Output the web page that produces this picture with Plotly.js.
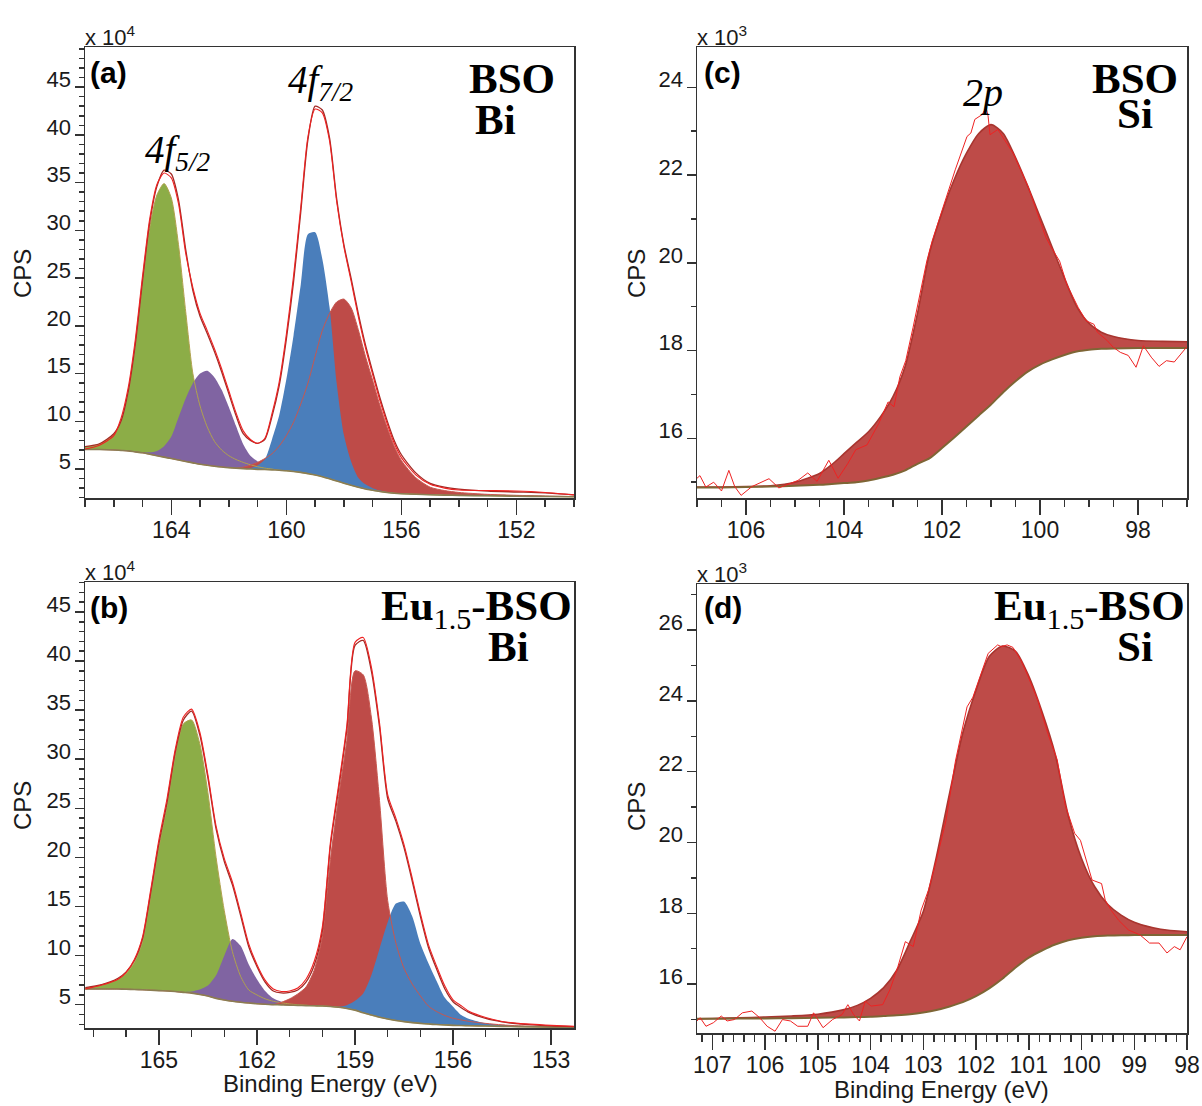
<!DOCTYPE html>
<html><head><meta charset="utf-8">
<script src="https://cdn.plot.ly/plotly-3.0.1.min.js"></script>
<style>html,body{margin:0;padding:0;background:#fff}#chart{width:1202px;height:1106px}</style>
</head><body><div id="chart"></div>
<script>
// ---------- Panel (a): BSO, Bi 4f (CPS x 10^4) ----------
const energyA = [167,166.5,166,165.75,165.5,165.25,165,164.75,164.5,164.25,164,163.75,163.5,163.25,163,162.75,162.5,162.25,162,161.75,161.5,161.25,161,160.75,160.5,160.25,160,159.75,159.5,159.25,159,158.75,158.5,158.25,158,157.75,157.5,157.25,157,156.75,156.5,156.25,156,155.5,155,154.5,154,153,152,151,150];
const bgA = [7.05,7.05,7.0,6.95,6.9,6.8,6.7,6.55,6.4,6.25,6.1,5.95,5.8,5.65,5.5,5.4,5.3,5.22,5.15,5.1,5.05,5.0,4.97,4.95,4.92,4.88,4.82,4.75,4.65,4.52,4.38,4.2,3.98,3.75,3.52,3.3,3.1,2.92,2.78,2.65,2.55,2.47,2.42,2.36,2.31,2.27,2.24,2.2,2.16,2.13,2.1];
const greenA = [7.3,7.6,8.6,9.9,12.9,17.8,24.3,30.2,33.7,34.9,33.4,28.5,21.5,15.0,11.6,9.4,7.9,7.0,6.4,6.0,5.7,5.45,5.25,5.1,5.0,4.88,4.82,4.75,4.65,4.52,4.38,4.2,3.98,3.75,3.52,3.3,3.1,2.92,2.78,2.65,2.55,2.47,2.42,2.36,2.31,2.27,2.24,2.2,2.16,2.13,2.1];
const purpleA = [7.05,7.05,7.0,6.95,6.9,6.8,6.75,6.75,6.9,7.4,8.4,10.4,12.4,14.0,15.0,15.3,14.6,13.3,11.5,9.5,7.6,6.4,5.8,5.45,5.25,5.05,4.9,4.75,4.65,4.52,4.38,4.2,3.98,3.75,3.52,3.3,3.1,2.92,2.78,2.65,2.55,2.47,2.42,2.36,2.31,2.27,2.24,2.2,2.16,2.13,2.1];
const blueA = [7.05,7.05,7.0,6.95,6.9,6.8,6.7,6.55,6.4,6.25,6.1,5.95,5.8,5.65,5.5,5.4,5.3,5.22,5.15,5.1,5.05,5.1,5.4,6.0,8.1,10.6,14.4,19.0,24.3,29.6,29.8,27.0,22.0,14.0,8.6,5.8,4.1,3.4,3.0,2.75,2.6,2.5,2.44,2.36,2.31,2.27,2.24,2.2,2.16,2.13,2.1];
const redA = [7.05,7.05,7.0,6.95,6.9,6.8,6.7,6.55,6.4,6.25,6.1,5.95,5.8,5.65,5.5,5.4,5.3,5.22,5.15,5.1,5.2,5.4,5.7,6.1,6.6,7.4,8.5,9.9,11.8,14.0,16.8,19.5,21.3,22.5,22.8,21.9,19.6,16.8,14.3,11.7,9.4,7.4,5.9,4.1,3.1,2.75,2.55,2.35,2.25,2.18,2.12];
const envA = [7.35,7.65,8.7,10.0,13.1,18.1,24.7,30.8,34.6,36.3,35.9,33.2,28.0,23.7,21.0,19.2,17.3,15.2,12.9,10.6,8.7,8.0,7.7,8.1,10.5,13.7,18.6,24.6,31.9,39.5,43.0,42.6,39.7,33.3,28.5,25.0,21.3,18.0,15.2,12.5,10.1,8.0,6.5,4.6,3.5,3.1,2.9,2.7,2.6,2.5,2.3];
const dataA = [7.1,7.5,8.5,10.3,13.5,18.6,25.2,31.2,34.8,36.0,35.5,32.8,27.6,24.0,21.3,19.5,17.6,15.5,13.2,10.9,9.0,8.1,7.7,8.2,10.8,14.1,19.1,25.2,32.4,39.8,42.7,42.3,39.4,33.0,28.3,24.7,21.0,17.7,14.9,12.2,9.8,7.7,6.2,4.4,3.4,3.0,2.8,2.75,2.7,2.55,2.3];

// ---------- Panel (b): Eu1.5-BSO, Bi 4f (CPS x 10^4) ----------
const energyB = [167.25,166.75,166.25,166,165.75,165.5,165.25,165,164.75,164.5,164.25,164,163.75,163.5,163.25,163,162.75,162.5,162.25,162,161.75,161.5,161.25,161,160.75,160.5,160.25,160,159.75,159.5,159.25,159,158.75,158.5,158.25,158,157.75,157.5,157.25,157,156.75,156.5,156.25,156,155.75,155.5,155,154.5,154,153,152.3];
const bgB = [6.6,6.6,6.6,6.58,6.55,6.52,6.48,6.44,6.4,6.34,6.26,6.18,6.05,5.88,5.65,5.48,5.35,5.25,5.17,5.1,5.05,5.01,4.98,4.95,4.93,4.91,4.89,4.87,4.82,4.74,4.62,4.45,4.18,3.95,3.73,3.55,3.4,3.28,3.18,3.1,3.03,2.98,2.94,2.9,2.88,2.86,2.83,2.8,2.77,2.72,2.68];
const greenB = [6.7,7.0,7.6,8.2,9.3,11.4,16.0,21.0,25.2,30.3,33.6,34.0,31.6,26.6,20.0,14.6,10.4,7.9,6.5,6.0,5.6,5.35,5.2,5.08,5.0,4.95,4.89,4.87,4.82,4.74,4.62,4.45,4.18,3.95,3.73,3.55,3.4,3.28,3.18,3.1,3.03,2.98,2.94,2.9,2.88,2.86,2.83,2.8,2.77,2.72,2.68];
const purpleB = [6.6,6.6,6.6,6.58,6.55,6.52,6.48,6.44,6.4,6.34,6.3,6.35,6.55,6.95,8.0,10.0,11.7,11.0,9.1,7.6,6.4,5.65,5.3,5.12,5.0,4.94,4.89,4.87,4.82,4.74,4.62,4.45,4.18,3.95,3.73,3.55,3.4,3.28,3.18,3.1,3.03,2.98,2.94,2.9,2.88,2.86,2.83,2.8,2.77,2.72,2.68];
const redB = [6.6,6.6,6.6,6.58,6.55,6.52,6.48,6.44,6.4,6.34,6.26,6.18,6.05,5.88,5.65,5.48,5.35,5.25,5.17,5.1,5.05,5.01,5.25,5.6,6.1,6.8,8.5,11.9,19.8,26.2,31.9,39.0,38.6,34.3,25.8,15.6,11.3,8.7,7.1,5.9,4.85,4.3,3.9,3.62,3.45,3.3,3.1,2.95,2.85,2.75,2.7];
const blueB = [6.6,6.6,6.6,6.58,6.55,6.52,6.48,6.44,6.4,6.34,6.26,6.18,6.05,5.88,5.65,5.48,5.35,5.25,5.17,5.1,5.05,5.01,4.98,4.95,4.93,4.91,4.89,4.87,4.82,4.8,4.95,5.4,6.15,8.0,10.7,13.4,15.3,15.5,14.0,11.2,9.2,7.4,5.7,4.8,3.95,3.55,3.1,2.92,2.82,2.73,2.68];
const envB = [6.75,7.05,7.7,8.35,9.5,11.7,16.4,21.4,25.6,30.7,34.0,34.9,32.5,28.1,22.9,19.6,17.2,14.1,10.9,8.9,7.3,6.4,6.2,6.25,6.5,7.3,9.0,12.5,21.2,27.0,33.0,41.6,42.1,39.0,33.3,26.0,23.7,21.0,17.6,14.0,10.8,8.6,6.6,5.3,4.7,4.2,3.6,3.25,3.05,2.85,2.78];
const dataB = [6.6,7.0,7.6,8.3,9.6,11.9,16.7,21.8,26.0,31.0,34.3,35.1,32.8,28.4,23.2,19.9,17.5,14.4,11.2,9.1,7.5,6.6,6.35,6.4,6.7,7.6,9.4,12.9,21.6,27.4,33.4,41.9,42.4,39.4,33.7,26.4,24.0,21.3,17.9,14.3,11.1,8.9,6.9,5.5,4.9,4.3,3.7,3.3,3.1,2.9,2.8];

// ---------- Panel (c): BSO, Si 2p (CPS x 10^3) ----------
const energyC = [107,106.5,106,105.5,105,104.5,104.25,104,103.75,103.5,103.25,103,102.75,102.5,102.25,102,101.75,101.5,101.25,101,100.75,100.5,100.25,100,99.75,99.5,99.25,99,98.75,98.5,98,97.5,97];
const bgC = [14.88,14.88,14.89,14.9,14.92,14.94,14.96,14.98,15.0,15.04,15.1,15.17,15.27,15.42,15.55,15.78,16.02,16.27,16.52,16.77,17.05,17.3,17.52,17.68,17.8,17.9,17.98,18.02,18.04,18.05,18.06,18.06,18.06];
const fitC = [14.89,14.89,14.9,14.92,15.0,15.2,15.4,15.65,15.9,16.15,16.5,16.95,17.65,18.85,20.25,21.15,21.9,22.5,22.95,23.15,22.95,22.4,21.75,21.05,20.35,19.65,19.0,18.62,18.42,18.32,18.23,18.21,18.2];
const rawEnergyC = [107.0,106.94,106.82,106.66,106.5,106.35,106.23,106.1,105.88,105.53,105.33,104.94,104.74,104.55,104.31,104.12,103.92,103.76,103.53,103.29,103.1,102.98,102.86,102.74,102.59,102.43,102.31,102.2,101.96,101.73,101.49,101.41,101.33,101.18,101.1,101.06,101.02,100.86,100.55,100.24,100.0,99.88,99.77,99.6,99.45,99.22,99.06,98.9,98.83,98.63,98.51,98.36,98.2,98.04,97.89,97.73,97.57,97.42,97.26,97.0];
const rawC = [15.09,15.15,14.89,15.0,14.8,15.27,14.9,14.7,14.9,15.08,14.87,15.04,15.21,15.02,15.5,15.09,15.43,15.74,15.85,16.34,16.83,16.72,17.4,17.77,18.53,19.36,20.04,20.5,21.35,22.12,22.88,22.96,23.27,23.38,23.54,23.35,22.92,23.04,22.5,21.73,20.96,20.58,20.35,20.04,19.5,18.98,18.68,18.6,18.42,18.23,18.08,17.96,17.89,17.62,18.11,17.85,17.64,17.77,17.74,18.09];

// ---------- Panel (d): Eu1.5-BSO, Si 2p (CPS x 10^3) ----------
const energyD = [107.3,107,106.5,106,105.5,105,104.5,104.25,104,103.75,103.5,103.25,103,102.75,102.5,102.25,102,101.75,101.5,101.25,101,100.75,100.5,100.25,100,99.75,99.5,99.25,99,98.5,98];
const bgD = [15.02,15.02,15.03,15.03,15.04,15.05,15.06,15.07,15.08,15.1,15.12,15.15,15.2,15.27,15.37,15.49,15.66,15.88,16.15,16.47,16.75,16.95,17.12,17.24,17.31,17.35,17.37,17.38,17.39,17.39,17.39];
const fitD = [15.02,15.03,15.05,15.07,15.1,15.15,15.28,15.4,15.6,15.9,16.4,17.2,18.05,19.6,21.4,23.1,24.3,25.25,25.55,25.4,24.7,23.7,22.5,20.75,19.55,18.75,18.25,17.95,17.75,17.55,17.48];
const rawEnergyD = [107.29,107.23,107.12,106.98,106.83,106.72,106.58,106.43,106.25,106.1,105.96,105.81,105.67,105.52,105.38,105.19,105.08,104.9,104.72,104.54,104.43,104.32,104.21,104.1,103.99,103.77,103.63,103.48,103.34,103.19,103.04,102.9,102.75,102.64,102.57,102.39,102.17,102.06,101.84,101.77,101.59,101.52,101.41,101.3,101.15,101.01,100.83,100.64,100.46,100.31,100.13,100.02,99.8,99.62,99.55,99.44,99.3,99.11,98.89,98.71,98.53,98.38,98.24,98.13,98.0];
const rawD = [14.96,15.05,14.81,14.91,15.1,14.96,15.0,15.19,15.24,15.05,14.81,14.67,15.0,14.96,14.81,14.81,15.19,14.77,15.0,15.14,15.42,15.14,14.96,15.52,15.38,15.42,15.85,16.5,17.2,17.06,18.09,18.66,19.5,20.15,20.62,22.3,23.83,24.1,25.06,25.34,25.58,25.53,25.58,25.51,25.15,24.68,24.02,23.08,22.33,21.06,20.26,20.06,18.94,18.84,18.37,18.09,17.81,17.53,17.39,17.16,17.16,16.88,17.06,16.97,17.34];

// ---------- styling ----------
const W = 1202, H = 1106;
const SANS = 'Liberation Sans, Arial, sans-serif';
const SERIF = 'Liberation Serif, Times New Roman, serif';
const AX = '#333333';
const C_GREEN = '#8cad47', C_PURPLE = '#8064a2', C_BLUE = '#4a7ebb', C_RED = '#be4b48';
const C_ENV = '#a32a25', C_DATA = '#ee2222', C_BG = '#8a7d52';
const px = x => x / W, py = y => 1 - y / H;

const traces = [];
function fillBetween(xa, ya, x, base, top, color, name) {
  traces.push({x: x, y: base, xaxis: xa, yaxis: ya, mode: 'lines', hoverinfo: 'skip', showlegend: false,
    line: {width: 0, shape: 'spline', smoothing: 0.7}});
  traces.push({x: x, y: top, xaxis: xa, yaxis: ya, mode: 'lines', name: name, showlegend: false,
    fill: 'tonexty', fillcolor: color, line: {width: 0, shape: 'spline', smoothing: 0.7}});
}
function addLine(xa, ya, x, y, color, width, shape, name) {
  traces.push({x: x, y: y, xaxis: xa, yaxis: ya, mode: 'lines', name: name, showlegend: false,
    line: {color: color, width: width, shape: shape, smoothing: 0.7}});
}

// Panel (a)
fillBetween('x', 'y', energyA, bgA, greenA, C_GREEN, 'Bi 4f5/2 (1)');
fillBetween('x', 'y', energyA, bgA, purpleA, C_PURPLE, 'Bi 4f5/2 (2)');
fillBetween('x', 'y', energyA, bgA, redA, C_RED, 'Bi 4f7/2 (2)');
fillBetween('x', 'y', energyA, bgA, blueA, C_BLUE, 'Bi 4f7/2 (1)');
addLine('x', 'y', energyA, greenA, '#b0a24e', 1, 'spline', 'green outline');
addLine('x', 'y', energyA, redA, '#c8574f', 1, 'spline', 'red outline');
addLine('x', 'y', energyA, bgA, C_BG, 1.6, 'spline', 'background');
addLine('x', 'y', energyA, envA, C_ENV, 1.3, 'spline', 'envelope');
addLine('x', 'y', energyA, dataA, C_DATA, 1.1, 'spline', 'data');

// Panel (b)
fillBetween('x3', 'y3', energyB, bgB, greenB, C_GREEN, 'Bi 4f5/2 (1)');
fillBetween('x3', 'y3', energyB, bgB, purpleB, C_PURPLE, 'Bi 4f5/2 (2)');
fillBetween('x3', 'y3', energyB, bgB, redB, C_RED, 'Bi 4f7/2 (1)');
fillBetween('x3', 'y3', energyB, bgB, blueB, C_BLUE, 'Bi 4f7/2 (2)');
addLine('x3', 'y3', energyB, greenB, '#b0a24e', 1, 'spline', 'green outline');
addLine('x3', 'y3', energyB, redB, '#c8574f', 1, 'spline', 'red outline');
addLine('x3', 'y3', energyB, bgB, C_BG, 1.6, 'spline', 'background');
addLine('x3', 'y3', energyB, envB, C_ENV, 1.3, 'spline', 'envelope');
addLine('x3', 'y3', energyB, dataB, C_DATA, 1.1, 'spline', 'data');

// Panel (c)
fillBetween('x2', 'y2', energyC, bgC, fitC, C_RED, 'Si 2p');
addLine('x2', 'y2', energyC, fitC, '#a8352f', 1.6, 'spline', 'fit');
addLine('x2', 'y2', energyC, bgC, '#7e6535', 2, 'spline', 'background');
addLine('x2', 'y2', rawEnergyC, rawC, C_DATA, 1, 'linear', 'data');

// Panel (d)
fillBetween('x4', 'y4', energyD, bgD, fitD, C_RED, 'Si 2p');
addLine('x4', 'y4', energyD, fitD, '#a8352f', 1.6, 'spline', 'fit');
addLine('x4', 'y4', energyD, bgD, '#7e6535', 2, 'spline', 'background');
addLine('x4', 'y4', rawEnergyD, rawD, C_DATA, 1, 'linear', 'data');

function xAxis(domain, anchor, range, tick0, dtick, minorDtick) {
  return {domain: domain, anchor: anchor, range: range, tickmode: 'linear', tick0: tick0, dtick: dtick,
    ticks: 'outside', ticklen: 15, tickwidth: 1.5, tickcolor: AX, ticklabelstandoff: -4,
    minor: {tick0: tick0, dtick: minorDtick, ticks: 'outside', ticklen: 7, tickwidth: 1.5, tickcolor: AX, showgrid: false},
    showline: true, linecolor: AX, linewidth: 1.5, mirror: true, showgrid: false, zeroline: false,
    tickfont: {family: SANS, size: 23, color: '#1a1a1a'}, fixedrange: true};
}
function yAxis(domain, anchor, range, dtick) {
  return {domain: domain, anchor: anchor, range: range, tickmode: 'linear', tick0: 0, dtick: dtick,
    ticks: 'outside', ticklen: 9, tickwidth: 1.5, tickcolor: AX, ticklabelshift: -8, ticklabelstandoff: -1,
    minor: {tick0: 0, dtick: 1, ticks: 'outside', ticklen: 5, tickwidth: 1.5, tickcolor: AX, showgrid: false},
    showline: true, linecolor: AX, linewidth: 1.5, mirror: true, showgrid: false, zeroline: false,
    tickfont: {family: SANS, size: 22, color: '#1a1a1a'}, fixedrange: true};
}

const domLeft = [px(85), px(574)], domRight = [px(697), px(1187)];
const layout = {
  width: W, height: H, autosize: false, showlegend: false,
  paper_bgcolor: '#ffffff', plot_bgcolor: '#ffffff',
  margin: {l: 0, r: 0, t: 0, b: 0, pad: 0},
  xaxis: xAxis(domLeft, 'y', [167, 150], 152, 4, 1),
  yaxis: yAxis([py(498), py(47)], 'x', [1.97, 49.2], 5),
  xaxis2: xAxis(domRight, 'y2', [107, 97], 98, 2, 0.5),
  yaxis2: yAxis([py(498), py(47)], 'x2', [14.64, 24.92], 2),
  xaxis3: xAxis(domLeft, 'y3', [167.26, 152.3], 153, 3, 1),
  yaxis3: yAxis([py(1028), py(582)], 'x3', [2.63, 48.05], 5),
  xaxis4: xAxis(domRight, 'y4', [107.29, 98], 98, 1, 0.2),
  yaxis4: yAxis([py(1033), py(584)], 'x4', [14.62, 27.3], 2),
  annotations: []
};

function ann(text, x, y, size, family, opts) {
  layout.annotations.push(Object.assign({text: text, x: px(x), y: py(y), xref: 'paper', yref: 'paper',
    showarrow: false, xanchor: 'center', yanchor: 'middle', borderpad: 0,
    font: {family: family, size: size, color: '#000'}}, opts || {}));
}
const multFont = {family: SANS, size: 22, color: '#1a1a1a'};
ann('x 10<sup>4</sup>', 84, 36, 22, SANS, {xanchor: 'left', font: multFont});
ann('x 10<sup>4</sup>', 84, 571, 22, SANS, {xanchor: 'left', font: multFont});
ann('x 10<sup>3</sup>', 696, 36, 22, SANS, {xanchor: 'left', font: multFont});
ann('x 10<sup>3</sup>', 696, 573, 22, SANS, {xanchor: 'left', font: multFont});
// panel letters
ann('<b>(a)</b>', 89, 72, 30, SANS, {xanchor: 'left'});
ann('<b>(b)</b>', 89, 607, 30, SANS, {xanchor: 'left'});
ann('<b>(c)</b>', 703, 72, 30, SANS, {xanchor: 'left'});
ann('<b>(d)</b>', 703, 607, 30, SANS, {xanchor: 'left'});
// sample / element labels
ann('<b>BSO</b>', 512, 79, 43, SERIF);
ann('<b>Bi</b>', 495, 119, 43, SERIF);
ann('<b>Eu</b><sub>1.5</sub><b>-BSO</b>', 573, 609, 43, SERIF, {xanchor: 'right'});
ann('<b>Bi</b>', 508, 646, 43, SERIF);
ann('<b>BSO</b>', 1135, 79, 43, SERIF);
ann('<b>Si</b>', 1135, 113, 43, SERIF);
ann('<b>Eu</b><sub>1.5</sub><b>-BSO</b>', 1186, 609, 43, SERIF, {xanchor: 'right'});
ann('<b>Si</b>', 1135, 647, 43, SERIF);
// peak labels
ann('<i>4f<sub>5/2</sub></i>', 178, 152, 39, SERIF);
ann('<i>4f<sub>7/2</sub></i>', 321, 82, 39, SERIF);
ann('<i>2p</i>', 983, 92, 40, SERIF);
// axis titles
const titleFont = {family: SANS, size: 24, color: '#1a1a1a'};
[[22, 274], [22, 806], [636, 274], [636, 807]].forEach(p =>
  ann('CPS', p[0], p[1], 24, SANS, {textangle: -90, font: titleFont}));
ann('Binding Energy (eV)', 330, 1083, 24, SANS, {font: titleFont});
ann('Binding Energy (eV)', 941, 1089, 24, SANS, {font: titleFont});

Plotly.newPlot('chart', traces, layout, {displayModeBar: false, staticPlot: true});
</script>
</body></html>
